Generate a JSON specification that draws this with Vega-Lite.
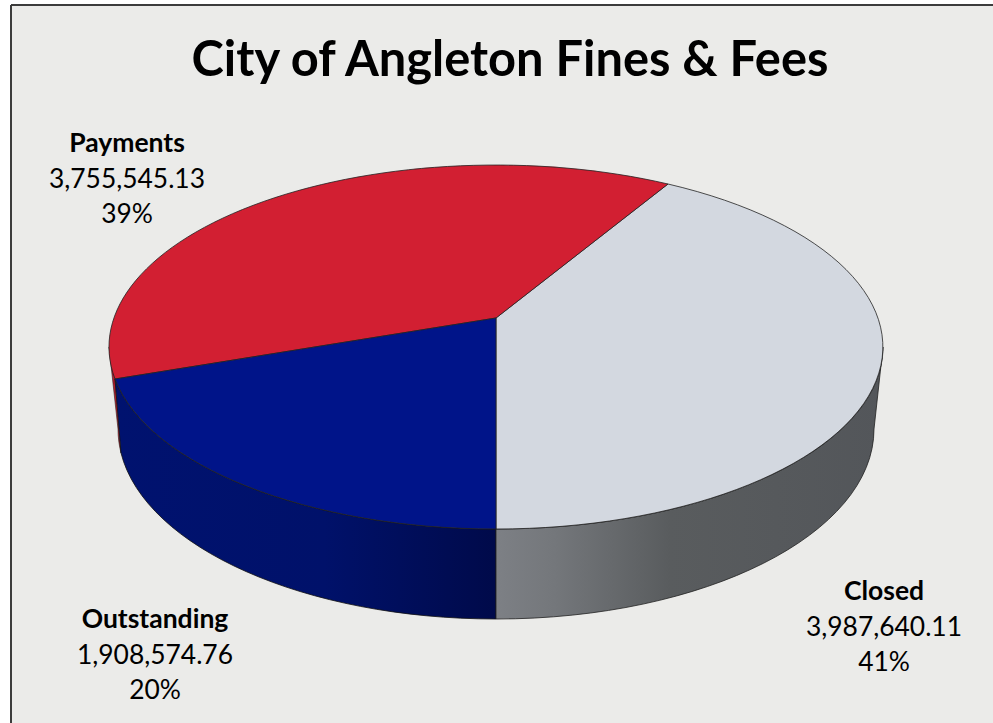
{
"$schema":"https://vega.github.io/schema/vega-lite/v6.json",
"width":982,"height":718,
"padding":{"left":11,"top":5,"right":0,"bottom":0},
"autosize":{"type":"none"},
"background":"#ffffff",
"view":{"fill":"#ebebe9","stroke":null},
"title":{"text":"City of Angleton Fines & Fees","font":"Lato","fontWeight":"bold","fontSize":48.8,"color":"#000000","anchor":"middle","frame":"group","orient":"top","offset":0,"baseline":"alphabetic","dy":121,"dx":8},
"data":{"values":[
{"category":"Closed","amount":3987640.11,"share":0.41},
{"category":"Payments","amount":3755545.13,"share":0.39},
{"category":"Outstanding","amount":1908574.76,"share":0.20}
]},
"encoding":{
"x":{"datum":496,"type":"quantitative","scale":{"domain":[11,993]},"axis":null},
"y":{"datum":347,"type":"quantitative","scale":{"domain":[723,5]},"axis":null}
},
"layer":[
{"mark":{"type":"rule","color":"#3a3a3a","strokeWidth":1.5},
 "encoding":{"x":{"datum":11,"type":"quantitative","scale":{"domain":[11,993]},"axis":null},"y":{"datum":5,"type":"quantitative","scale":{"domain":[723,5]},"axis":null},"y2":{"datum":723}}},
{"mark":{"type":"rule","color":"#3a3a3a","strokeWidth":1.5},
 "encoding":{"y":{"datum":5,"type":"quantitative","scale":{"domain":[723,5]},"axis":null},"x":{"datum":11,"type":"quantitative","scale":{"domain":[11,993]},"axis":null},"x2":{"datum":993}}},
{"transform":[{"filter":"datum.category==='Payments'"}],
 "mark":{"type":"point","filled":true,"size":4,"opacity":1,"fill":"#b81c2c","stroke":"#222222","strokeWidth":0.6,"shape":"M-381,32 L-375,106 A378,190 0 0 1 -378,82 L-387,0 Z"}},
{"transform":[{"filter":"datum.category==='Outstanding'"}],
 "mark":{"type":"point","filled":true,"size":4,"opacity":1,"stroke":"#111111","strokeWidth":0.8,"shape":"M-381,32 A387,182 0 0 0 0,182 L0,272 A378,190 0 0 1 -375,106 Z",
 "fill":{"gradient":"linear","x1":0,"y1":0,"x2":1,"y2":0,"stops":[{"offset":0,"color":"#00126f"},{"offset":0.55,"color":"#00116a"},{"offset":1,"color":"#000a4a"}]}}},
{"transform":[{"filter":"datum.category==='Closed'"}],
 "mark":{"type":"point","filled":true,"size":4,"opacity":1,"stroke":"#222222","strokeWidth":0.8,"shape":"M0,182 A387,182 0 0 0 387,0 L378,82 A378,190 0 0 1 0,272 Z",
 "fill":{"gradient":"linear","x1":0,"y1":0,"x2":1,"y2":0,"stops":[{"offset":0,"color":"#7d8085"},{"offset":0.15,"color":"#74777b"},{"offset":0.45,"color":"#595c5e"},{"offset":1,"color":"#53565a"}]}}},
{"mark":{"type":"point","filled":true,"size":4,"opacity":1,"stroke":"#222222","strokeWidth":0.8},
 "encoding":{
  "color":{"field":"category","type":"nominal","legend":null,"scale":{"domain":["Closed","Payments","Outstanding"],"range":["#d3d8e0","#d21f32","#001489"]}},
  "shape":{"field":"category","type":"nominal","legend":null,"scale":{"domain":["Closed","Payments","Outstanding"],"range":["M0,-29 L172,-163 A387,182 0 0 1 0,182 Z","M0,-29 L-381,32 A387,182 0 0 1 172,-163 Z","M0,-29 L0,182 A387,182 0 0 1 -381,32 Z"]}}
 }},
{"transform":[{"filter":"datum.category==='Payments'"}],
 "encoding":{"x":{"datum":127,"type":"quantitative","scale":{"domain":[11,993]},"axis":null},"y":{"datum":180,"type":"quantitative","scale":{"domain":[723,5]},"axis":null}},
 "layer":[
 {"mark":{"type":"text","font":"Lato","fontWeight":"bold","fontSize":26.5,"dy":-36,"color":"#000000"},"encoding":{"text":{"field":"category","type":"nominal"}}},
 {"mark":{"type":"text","font":"Lato","fontSize":26.4,"color":"#000000"},"encoding":{"text":{"field":"amount","type":"quantitative","format":",.2f"}}},
 {"mark":{"type":"text","font":"Lato","fontSize":26.4,"dy":35,"color":"#000000"},"encoding":{"text":{"field":"share","type":"quantitative","format":".0%"}}}
 ]},
{"transform":[{"filter":"datum.category==='Closed'"}],
 "encoding":{"x":{"datum":884,"type":"quantitative","scale":{"domain":[11,993]},"axis":null},"y":{"datum":628,"type":"quantitative","scale":{"domain":[723,5]},"axis":null}},
 "layer":[
 {"mark":{"type":"text","font":"Lato","fontWeight":"bold","fontSize":26.5,"dy":-36,"color":"#000000"},"encoding":{"text":{"field":"category","type":"nominal"}}},
 {"mark":{"type":"text","font":"Lato","fontSize":26.4,"color":"#000000"},"encoding":{"text":{"field":"amount","type":"quantitative","format":",.2f"}}},
 {"mark":{"type":"text","font":"Lato","fontSize":26.4,"dy":35,"color":"#000000"},"encoding":{"text":{"field":"share","type":"quantitative","format":".0%"}}}
 ]},
{"transform":[{"filter":"datum.category==='Outstanding'"}],
 "encoding":{"x":{"datum":155,"type":"quantitative","scale":{"domain":[11,993]},"axis":null},"y":{"datum":656,"type":"quantitative","scale":{"domain":[723,5]},"axis":null}},
 "layer":[
 {"mark":{"type":"text","font":"Lato","fontWeight":"bold","fontSize":26.5,"dy":-36,"color":"#000000"},"encoding":{"text":{"field":"category","type":"nominal"}}},
 {"mark":{"type":"text","font":"Lato","fontSize":26.4,"color":"#000000"},"encoding":{"text":{"field":"amount","type":"quantitative","format":",.2f"}}},
 {"mark":{"type":"text","font":"Lato","fontSize":26.4,"dy":35,"color":"#000000"},"encoding":{"text":{"field":"share","type":"quantitative","format":".0%"}}}
 ]}
]
}
